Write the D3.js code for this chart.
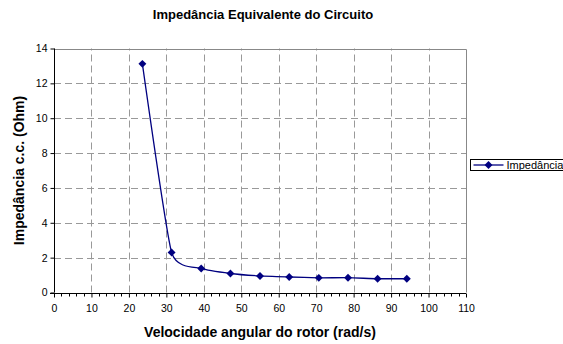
<!DOCTYPE html>
<html>
<head>
<meta charset="utf-8">
<script src="https://cdn.jsdelivr.net/npm/d3@7"></script>
<style>
  body { margin: 0; background: #fff; }
  text { font-family: "Liberation Sans", Arial, sans-serif; }
</style>
</head>
<body>
<div id="chart"></div>
<script>
// velocidade angular (rad/s) e impedância (Ohm)
const velocidade = [23.6, 31.4, 39.3, 47.1, 55.0, 62.8, 70.7, 78.5, 86.4, 94.2];
const impedancia = [13.12, 2.30, 1.38, 1.09, 0.95, 0.89, 0.84, 0.85, 0.79, 0.79];
const xTicks = [0, 10, 20, 30, 40, 50, 60, 70, 80, 90, 100, 110];
const yTicks = [0, 2, 4, 6, 8, 10, 12, 14];
const serieNome = "Impedância";

const width = 563, height = 344;
const margin = {top: 48.5, right: 97, bottom: 51.5, left: 54};
const navy = "#000080";
const fonte = "'Liberation Sans', Arial, sans-serif";

const svg = d3.select("#chart").append("svg")
    .attr("width", width)
    .attr("height", height);

const x = d3.scaleLinear().domain([0, 110]).range([margin.left, width - margin.right]);
const y = d3.scaleLinear().domain([0, 14]).range([height - margin.bottom, margin.top]);

// grade tracejada
svg.append("g").selectAll("line")
    .data(yTicks.slice(1, -1)).enter().append("line")
    .attr("x1", x(0)).attr("x2", x(110))
    .attr("y1", d => Math.round(y(d)) + 0.5).attr("y2", d => Math.round(y(d)) + 0.5)
    .attr("stroke", "#999").attr("stroke-dasharray", "7,4");
svg.append("g").selectAll("line")
    .data(xTicks.slice(1, -1)).enter().append("line")
    .attr("y1", y(0)).attr("y2", y(14))
    .attr("x1", d => Math.round(x(d)) + 0.5).attr("x2", d => Math.round(x(d)) + 0.5)
    .attr("stroke", "#999").attr("stroke-dasharray", "7,4");

// borda superior e direita
svg.append("path")
    .attr("d", `M${x(0)},${Math.round(y(14)) + 0.5}H${Math.round(x(110)) + 0.5}V${y(0)}`)
    .attr("fill", "none").attr("stroke", "#888");

// eixo x
const xAxis = svg.append("g")
    .attr("transform", `translate(0,${Math.round(y(0)) + 0.5})`)
    .call(d3.axisBottom(x).tickValues(xTicks).tickSize(4).tickPadding(7))
    .call(g => g.select(".domain").attr("stroke", "#000").attr("d", `M${x(0) - 4},0H${x(110)}`));
xAxis.selectAll(".tick line").attr("stroke", "#000");
xAxis.selectAll(".tick text").attr("font-size", 10.5).attr("fill", "#000")
    .style("font-family", fonte);
svg.append("g")
    .attr("transform", `translate(0,${Math.round(y(0)) + 0.5})`)
    .selectAll("line").data(d3.range(0, 111, 2).filter(d => d % 10 !== 0)).enter().append("line")
    .attr("x1", d => Math.round(x(d)) + 0.5).attr("x2", d => Math.round(x(d)) + 0.5)
    .attr("y1", 0).attr("y2", 3).attr("stroke", "#000");

// eixo y
const yAxis = svg.append("g")
    .attr("transform", `translate(${Math.round(x(0)) + 0.5},0)`)
    .call(d3.axisLeft(y).tickValues(yTicks).tickSize(4).tickPadding(3))
    .call(g => g.select(".domain").attr("stroke", "#000").attr("d", `M0,${y(14)}V${y(0)}`));
yAxis.selectAll(".tick line").attr("stroke", "#000");
yAxis.selectAll(".tick text").attr("font-size", 10.5).attr("fill", "#000")
    .style("font-family", fonte);

// série
const dados = velocidade.map((v, i) => [v, impedancia[i]]);
const linha = d3.line()
    .x(d => x(d[0])).y(d => y(d[1]))
    .curve(d3.curveCardinal.tension(0.5));
svg.append("path")
    .datum(dados)
    .attr("d", linha)
    .attr("fill", "none").attr("stroke", navy).attr("stroke-width", 1.3);
const diamante = d3.symbol().type(d3.symbolDiamond2).size(40);
svg.append("g").selectAll("path")
    .data(dados).enter().append("path")
    .attr("d", diamante)
    .attr("transform", d => `translate(${x(d[0])},${y(d[1])})`)
    .attr("fill", navy);

// títulos
svg.append("text")
    .attr("x", 263).attr("y", 18.5)
    .attr("text-anchor", "middle").attr("font-size", 13).attr("font-weight", "bold")
    .text("Impedância Equivalente do Circuito");
svg.append("text")
    .attr("x", (x(0) + x(110)) / 2).attr("y", 337)
    .attr("text-anchor", "middle").attr("font-size", 14).attr("font-weight", "bold")
    .text("Velocidade angular do rotor (rad/s)");
svg.append("text")
    .attr("transform", `translate(24,${(y(0) + y(14)) / 2}) rotate(-90)`)
    .attr("text-anchor", "middle").attr("font-size", 14).attr("font-weight", "bold")
    .text("Impedância c.c. (Ohm)");

// legenda
const leg = svg.append("g").attr("transform", "translate(470.5,159.5)");
leg.append("rect").attr("width", 100).attr("height", 11)
    .attr("fill", "#fff").attr("stroke", "#000");
leg.append("line").attr("x1", 3).attr("x2", 33).attr("y1", 5.5).attr("y2", 5.5)
    .attr("stroke", navy).attr("stroke-width", 1.3);
leg.append("path").attr("d", diamante).attr("transform", "translate(18,5.5)").attr("fill", navy);
leg.append("text").attr("x", 36).attr("y", 9.5).attr("font-size", 11).text(serieNome);
</script>
</body>
</html>
